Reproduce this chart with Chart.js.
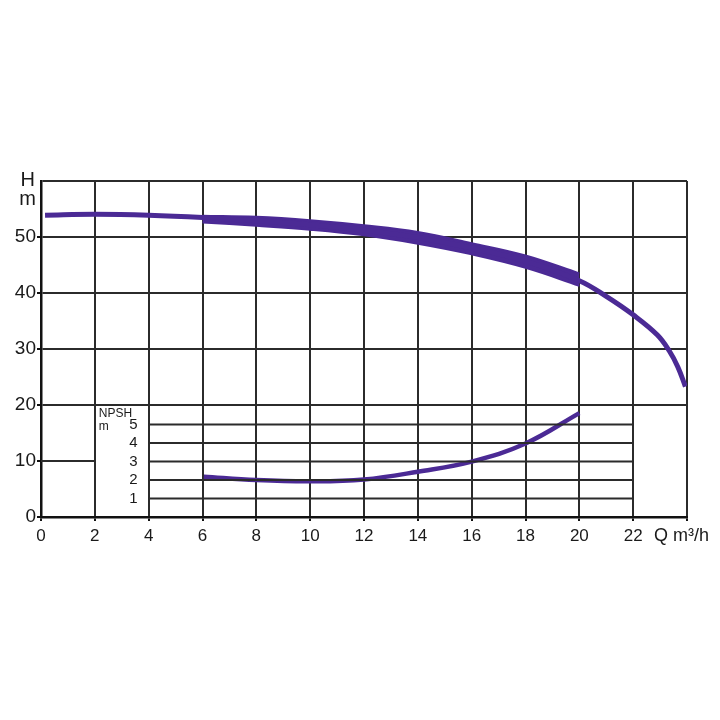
<!DOCTYPE html>
<html>
<head>
<meta charset="utf-8">
<script src="https://cdn.jsdelivr.net/npm/chart.js@4/dist/chart.umd.min.js"></script>
<style>
html,body{margin:0;padding:0;background:#fff;}
#wrap{width:720px;height:720px;position:relative;}
</style>
</head>
<body>
<div id="wrap"><canvas id="c" width="720" height="720"></canvas></div>
<script>
// ---- data ----
const qTicks = [0, 2, 4, 6, 8, 10, 12, 14, 16, 18, 20, 22];
const hTicks = [0, 10, 20, 30, 40, 50];
const npshTicks = [1, 2, 3, 4, 5];

const headQ = [0.15, 2, 4, 6, 8, 10, 12, 14, 16, 18, 20, 21, 22, 22.9, 23.35, 23.66, 23.94];
const headH = [53.9, 54.05, 53.9, 53.5, 52.9, 52.2, 51.2, 49.9, 48.0, 45.7, 42.2, 39.4, 36.1, 32.5, 29.6, 26.8, 23.3];

const bandQ = [6, 8, 10, 12, 14, 16, 18, 20];
const bandUpper = [53.8, 53.6, 53.0, 52.1, 50.9, 48.9, 46.7, 43.5];
const bandLower = [52.6, 52.0, 51.3, 50.3, 48.8, 46.9, 44.5, 41.3];

const npshQ = [6.05, 8, 10, 12, 14, 16, 18, 20];
const npshVal = [2.18, 2.0, 1.93, 2.03, 2.45, 3.0, 3.98, 5.62];

const purple = '#4b2a95';
const gridCol = '#2b2b2b';

const pts = (xs, ys) => xs.map((x, i) => ({x: x, y: ys[i]}));

const datasets = [];
// partial H=10 grid line
datasets.push({data: [{x: 0, y: 10}, {x: 2, y: 10}], borderColor: gridCol, borderWidth: 2, pointRadius: 0, yAxisID: 'y'});
// NPSH grid lines
npshTicks.forEach(n => {
  datasets.push({data: [{x: 4, y: n}, {x: 22, y: n}], borderColor: gridCol, borderWidth: 2, pointRadius: 0, yAxisID: 'y2'});
});
// head curve
datasets.push({data: pts(headQ, headH), borderColor: purple, borderWidth: 5, pointRadius: 0, tension: 0.4, yAxisID: 'y'});
// band
datasets.push({data: pts(bandQ, bandUpper), borderColor: purple, borderWidth: 2, pointRadius: 0, tension: 0.4, fill: '+1', backgroundColor: purple, yAxisID: 'y'});
datasets.push({data: pts(bandQ, bandLower), borderColor: purple, borderWidth: 2, pointRadius: 0, tension: 0.4, fill: false, yAxisID: 'y'});
// NPSH curve
datasets.push({data: pts(npshQ, npshVal), borderColor: purple, borderWidth: 4.5, pointRadius: 0, tension: 0.4, yAxisID: 'y2'});

const FONT = '"Liberation Sans", Arial, Helvetica, sans-serif';

const textPlugin = {
  id: 'texts',
  afterDraw(chart) {
    const ctx = chart.ctx;
    const xs = chart.scales.x, ys = chart.scales.y, y2 = chart.scales.y2;
    ctx.save();
    ctx.fillStyle = '#1a1a1a';
    ctx.textBaseline = 'middle';
    // H / m
    ctx.font = '20px ' + FONT;
    ctx.textAlign = 'right';
    ctx.fillText('H', xs.getPixelForValue(0) - 6, ys.getPixelForValue(60) - 1);
    ctx.fillText('m', xs.getPixelForValue(0) - 5, ys.getPixelForValue(60) + 18);
    // Q m3/h
    ctx.font = '18px ' + FONT;
    ctx.textAlign = 'left';
    ctx.fillText('Q m\u00b3/h', xs.getPixelForValue(24) - 33, ys.getPixelForValue(0) + 19);
    // NPSH labels
    ctx.font = '12px ' + FONT;
    ctx.textAlign = 'left';
    const nx = xs.getPixelForValue(2) + 4;
    ctx.fillText('NPSH', nx, ys.getPixelForValue(20) + 9);
    ctx.fillText('m', nx, ys.getPixelForValue(20) + 22);
    ctx.font = '15px ' + FONT;
    ctx.textAlign = 'right';
    npshTicks.forEach(n => {
      ctx.fillText(String(n), xs.getPixelForValue(4) - 11, y2.getPixelForValue(n));
    });
    ctx.restore();
  }
};

new Chart(document.getElementById('c'), {
  type: 'line',
  data: {datasets: datasets},
  options: {
    responsive: false,
    animation: false,
    events: [],
    layout: {padding: {top: 181, right: 33, left: 0, bottom: 0}},
    plugins: {legend: {display: false}, tooltip: {enabled: false}},
    scales: {
      x: {
        type: 'linear', min: 0, max: 24,
        afterBuildTicks: s => { s.ticks = qTicks.concat([24]).map(v => ({value: v})); },
        afterFit: s => { s.height = 720 - 517; },
        border: {color: '#111', width: 2.5},
        grid: {color: gridCol, lineWidth: 2, tickLength: 4, tickColor: '#111', drawTicks: true},
        ticks: {
          color: '#1a1a1a', font: {family: FONT, size: 17}, padding: 5, maxRotation: 0,
          callback: v => (qTicks.includes(v) ? String(v) : '')
        }
      },
      y: {
        type: 'linear', min: 0, max: 60,
        afterBuildTicks: s => { s.ticks = hTicks.concat([60]).map(v => ({value: v})); },
        afterFit: s => { s.width = 41; },
        border: {color: '#111', width: 2.5},
        grid: {
          color: c => (c.tick && c.tick.value === 10 ? 'rgba(0,0,0,0)' : gridCol),
          tickColor: c => (c.tick && c.tick.value === 60 ? 'rgba(0,0,0,0)' : '#111'),
          lineWidth: 2, tickLength: 4
        },
        ticks: {
          color: '#1a1a1a', font: {family: FONT, size: 19}, padding: 1,
          callback: v => (hTicks.includes(v) ? String(v) : '')
        }
      },
      y2: {
        type: 'linear', display: false, min: 0, max: 60 / 3.3,
        position: 'left'
      }
    }
  },
  plugins: [textPlugin]
});
</script>
</body>
</html>
